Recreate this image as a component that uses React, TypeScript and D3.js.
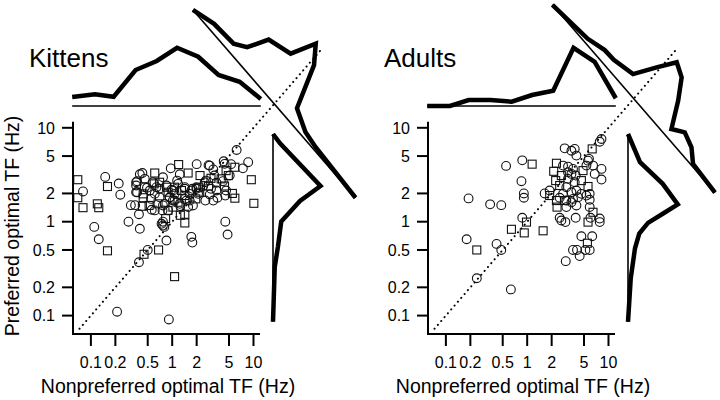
import React from "react";
import * as d3 from "d3";

const tickValues = [0.1, 0.2, 0.5, 1, 2, 5, 10];
const tickLabels = ["0.1", "0.2", "0.5", "1", "2", "5", "10"];
const panelTitles = ["Kittens", "Adults"];
const xAxisTitle = "Nonpreferred optimal TF (Hz)";
const yAxisTitle = "Preferred optimal TF (Hz)";

// scatter points: [nonpreferred TF, preferred TF] in Hz
const kittenCircles: [number, number][] = [
  [6.2, 5.8], [8.6, 4.3], [7.4, 3.7], [4.3, 4.4], [5.3, 4.1], [2.8, 4.0], [2.0, 4.1], [0.96, 3.7],
  [1.24, 3.2], [0.43, 3.3], [0.15, 3.0], [0.22, 2.55], [0.23, 1.94], [0.08, 2.1], [0.31, 1.5],
  [0.35, 1.5], [0.29, 1.0], [0.4, 0.84], [0.39, 1.2], [0.56, 1.34], [0.11, 0.88], [0.125, 0.65],
  [0.77, 0.91], [0.77, 1.0], [0.85, 0.63], [1.72, 0.69], [1.77, 0.6], [4.5, 1.0], [4.8, 0.73],
  [0.39, 0.37], [0.5, 0.5], [0.21, 0.11], [0.91, 0.091],
  [3.2, 3.6], [3.3, 3.1], [3.5, 2.6], [4.2, 2.7], [2.4, 2.4], [4.5, 1.9], [3.6, 1.8], [2.9, 1.95],
  [2.56, 1.68], [1.64, 1.98], [1.77, 2.24], [1.43, 2.24], [1.5, 1.68], [1.8, 1.49], [1.57, 1.43],
  [1.26, 1.46], [0.8, 0.88], [0.74, 0.95], [0.37, 2.06], [0.36, 2.43], [0.37, 2.7], [0.46, 2.86],
  [0.49, 2.3], [0.53, 2.15], [0.61, 1.98], [0.7, 1.82], [0.77, 2.97], [0.93, 1.8], [1.07, 1.98],
  [1.15, 2.74], [1.02, 1.68], [0.81, 1.55], [0.55, 1.75], [0.76, 1.32], [1.99, 2.24], [3.0, 2.24],
  [2.6, 2.74], [4.6, 2.15], [3.2, 1.68], [0.98, 2.19], [0.64, 2.33],
  [0.4, 3.2], [0.36, 2.63], [0.36, 2.06], [0.46, 2.33], [0.58, 2.63], [0.7, 2.24], [0.85, 2.43],
  [1.02, 2.15], [1.18, 2.53], [1.43, 2.33], [1.72, 2.15], [2.08, 1.98], [0.93, 1.82], [1.07, 1.68],
  [1.24, 1.55], [0.77, 1.49], [0.89, 1.32], [1.43, 1.75], [1.64, 1.68], [1.99, 2.33], [2.89, 3.96],
  [4.42, 4.13], [2.51, 2.63], [3.5, 2.15], [5.1, 3.1], [0.61, 1.32],
];
const kittenSquares: [number, number][] = [
  [1.2, 4.06], [1.57, 3.3], [0.61, 3.3], [5.9, 3.8], [4.6, 3.5], [2.2, 3.1], [4.9, 3.1], [3.0, 2.9],
  [4.4, 2.4], [2.8, 2.4], [2.1, 2.3], [9.4, 2.8], [5.5, 2.0], [5.9, 1.78], [10.1, 1.57], [1.95, 1.75],
  [1.43, 1.9], [1.26, 1.17], [1.43, 1.2], [1.43, 0.97], [1.02, 1.43], [0.89, 1.32], [0.83, 1.08],
  [1.07, 0.26], [0.68, 0.5], [0.45, 0.45], [0.43, 1.46], [0.44, 1.98], [0.44, 1.8], [0.7, 2.63],
  [0.85, 2.33], [0.89, 2.06], [1.18, 1.61], [0.67, 1.55], [0.52, 1.49], [2.18, 2.06], [4.0, 2.86],
  [1.07, 2.33], [1.3, 2.15], [0.6, 2.53], [0.069, 2.8], [0.069, 1.8], [0.08, 1.41], [0.12, 1.55],
  [0.125, 1.41], [0.16, 2.37], [0.16, 0.49],
];
const adultCircles: [number, number][] = [
  [0.19, 1.77], [0.18, 0.65], [0.24, 0.25], [0.35, 1.53], [0.48, 1.5], [0.42, 0.58], [0.48, 0.5],
  [0.63, 0.19], [0.55, 3.93], [0.87, 4.5], [0.85, 2.7], [0.91, 2.0], [0.91, 1.8], [0.87, 1.1],
  [1.64, 2.0], [1.89, 2.15], [2.89, 6.04], [3.5, 5.7], [3.84, 5.96], [4.03, 5.06], [2.76, 3.96],
  [3.18, 3.86], [3.66, 3.65], [3.18, 3.36], [3.5, 3.23], [3.95, 3.1], [5.6, 4.47], [6.46, 3.96],
  [6.77, 3.23], [8.2, 3.65], [8.2, 2.81], [7.8, 7.1], [8.2, 7.6], [5.75, 4.67], [5.35, 3.96],
  [3.84, 2.63], [3.03, 2.33], [3.5, 2.06], [4.03, 2.15], [4.64, 1.98], [5.87, 1.98], [5.87, 1.71],
  [5.87, 1.43], [6.0, 1.1], [7.8, 1.08], [7.8, 0.99], [3.95, 1.1], [2.51, 1.1], [2.63, 1.03],
  [2.95, 0.99], [4.64, 0.7], [6.3, 0.7], [3.66, 0.5], [4.1, 0.5], [5.2, 0.5], [5.87, 0.5],
  [4.42, 0.43], [2.98, 0.38], [3.03, 1.68], [3.66, 1.75], [4.22, 1.82], [2.76, 1.98], [2.51, 1.8],
  [4.03, 1.49], [3.03, 1.43], [5.35, 1.9], [3.5, 1.61], [3.18, 2.86],
];
const adultSquares: [number, number][] = [
  [0.24, 0.5], [1.15, 4.1], [0.98, 0.99], [0.64, 0.83], [0.92, 0.76], [1.57, 0.8], [1.89, 1.9],
  [2.33, 1.43], [2.29, 1.68], [2.12, 3.44], [2.29, 4.19], [2.24, 2.74], [2.51, 2.43], [4.86, 3.5],
  [6.3, 5.96], [4.64, 2.74], [5.6, 2.37], [6.45, 1.26], [5.6, 0.99], [5.5, 0.59], [2.63, 3.1],
  [2.89, 1.68],
];

// marginal distributions (log10 Hz bin positions, relative heights)
const topBinsLog = [-1.23, -0.95, -0.72, -0.45, -0.19, 0.06, 0.32, 0.57, 0.83, 1.09];
const kittenTopHist = [3.6, 4.7, 3.7, 14.4, 18, 23.3, 19.7, 12.4, 9.7, 2.8];
const adultTopHist = [0, 0, 2.4, 2.4, 1.7, 4.4, 6.1, 23.3, 17.7, 3.1];
const kittenRightLog = [0.934, 0.834, 0.38, 0.221, 0.003, -0.262, -0.482, -1.066];
const kittenRightHist = [0, 2.8, 19, 10.8, 3.3, 2, 0.7, 0];
const adultRightLog = [0.934, 0.635, 0.403, 0.184, 0.085, -0.013, -0.127, -0.283, -0.602, -1.066];
const adultRightHist = [0, 4.8, 13.9, 19.9, 13.9, 8, 4.5, 2.8, 1.1, 0];
// difference distribution: log10(pref) - log10(nonpref)
const kittenDiagLog = [2, 1.592, 1.141, 0.937, 0.753, 0.333, 0.13, -0.077, -0.326, -0.683, -0.966, -2];
const kittenDiagHist = [0, 2.8, 3.5, 6.7, 15.3, 18.3, 28.6, 22.4, 5.8, 2.1, 1.2, 0];
const adultDiagLog = [2, 1.202, 0.874, 0.659, 0.27, 0.052, -0.141, -0.362, -0.567, -0.787, -0.986, -1.228, -1.423, -2];
const adultDiagHist = [0, 1.8, 4, 4.2, 6.3, 15.3, 22.8, 20.3, 13.1, 3.5, 6.7, 4.8, 0.9, 0];
const diagCenters = [2.51, 2.62];

const FONT = "'Liberation Sans', Arial, Helvetica, sans-serif";

type Pt = [number, number];

function Panel(props: {
  ox: number; title: string; circles: Pt[]; squares: Pt[]; topHist: number[];
  rightLog: number[]; rightHist: number[]; diagLog: number[]; diagHist: number[];
  diagC: number; showYTitle: boolean;
}) {
  const { ox, title, circles, squares, topHist, rightLog, rightHist, diagLog, diagHist, diagC, showYTitle } = props;
  const x = d3.scaleLog().domain([10 ** -1.22, 10 ** 1.08]).range([ox + 73, ox + 260]);
  const y = d3.scaleLog().domain([10 ** -1.196, 10 ** 1.065]).range([334, 121.7]);
  const h = d3.scaleLinear().domain([0, 1]).range([0, 2.5]);
  const line = d3.line();
  const x0 = x.range()[0];
  const y0 = y.range()[0];
  const topBase = 106;
  const rightBase = ox + 273;

  const topPts: Pt[] = topBinsLog.map((b, i) => [x(10 ** b), topBase - h(topHist[i])]);
  const rightPts: Pt[] = rightLog.map((b, i) => [rightBase + h(rightHist[i]), y(10 ** b)]);
  const ux = x(10) - x(1);
  const uy = y(10) - y(1);
  const len = Math.hypot(ux, uy);
  const diagBase = (d: number): Pt => [x(10 ** ((diagC - d) / 2)), y(10 ** ((diagC + d) / 2))];
  const diagPts: Pt[] = diagLog.map((d, i) => {
    const [bx, by] = diagBase(d);
    const hh = h(diagHist[i]);
    return [bx + (hh * ux) / len, by + (hh * uy) / len];
  });
  const idLo = 10 ** -1.14;
  const idHi = 10 ** 1.84;
  const sq = 8;

  return (
    <g>
      <text x={ox + 29} y={67} fontSize={26} fontFamily={FONT}>{title}</text>
      {/* identity line */}
      <line x1={x(idLo)} y1={y(idLo)} x2={x(idHi)} y2={y(idHi)} stroke="#000" strokeWidth={2}
        strokeDasharray="0.1 5" strokeLinecap="round" />
      {/* scatter */}
      {circles.map((p, i) => (
        <circle key={"c" + i} cx={x(p[0])} cy={y(p[1])} r={4.4} fill="none" stroke="#111" strokeWidth={1.1} />
      ))}
      {squares.map((p, i) => (
        <rect key={"s" + i} x={x(p[0]) - sq / 2} y={y(p[1]) - sq / 2} width={sq} height={sq}
          fill="none" stroke="#111" strokeWidth={1.1} />
      ))}
      {/* axes */}
      <line x1={x0} y1={y.range()[1]} x2={x0} y2={y0} stroke="#000" strokeWidth={2} />
      <line x1={x0 - 1} y1={y0} x2={x.range()[1]} y2={y0} stroke="#000" strokeWidth={2} />
      {tickValues.map((v, i) => (
        <g key={"yt" + i}>
          <line x1={x0 - 11} x2={x0} y1={y(v)} y2={y(v)} stroke="#000" strokeWidth={2} />
          <text x={x0 - 18} y={y(v)} dy="0.36em" textAnchor="end" fontSize={16} fontFamily={FONT}>
            {tickLabels[i]}
          </text>
        </g>
      ))}
      {tickValues.map((v, i) => (
        <g key={"xt" + i}>
          <line x1={x(v)} x2={x(v)} y1={y0} y2={y0 + 12} stroke="#000" strokeWidth={2} />
          <text x={x(v)} y={368} textAnchor="middle" fontSize={16} fontFamily={FONT}>
            {tickLabels[i]}
          </text>
        </g>
      ))}
      <text x={ox + 168} y={393} textAnchor="middle" fontSize={19.5} fontFamily={FONT}>{xAxisTitle}</text>
      {showYTitle && (
        <text transform={`translate(19,226) rotate(-90)`} textAnchor="middle" fontSize={19.5} fontFamily={FONT}>
          {yAxisTitle}
        </text>
      )}
      {/* marginal baselines */}
      <line x1={topPts[0][0]} x2={topPts[topPts.length - 1][0]} y1={topBase} y2={topBase} stroke="#000" strokeWidth={1.6} />
      <line x1={rightBase} x2={rightBase} y1={rightPts[0][1]} y2={rightPts[rightPts.length - 1][1]} stroke="#000" strokeWidth={1.6} />
      {(() => {
        const a = diagBase(2);
        const b = diagBase(-2);
        return <line x1={a[0]} y1={a[1]} x2={b[0]} y2={b[1]} stroke="#000" strokeWidth={1.6} />;
      })()}
      {/* marginal histograms */}
      <path d={line(topPts) || ""} fill="none" stroke="#000" strokeWidth={4.5} />
      <path d={line(rightPts) || ""} fill="none" stroke="#000" strokeWidth={4.5} />
      <path d={line(diagPts) || ""} fill="none" stroke="#000" strokeWidth={4.5} />
    </g>
  );
}

export default function App() {
  return (
    <svg width={720} height={400} style={{ position: "absolute", left: 0, top: 0, background: "#fff" }}>
      <rect width={720} height={400} fill="#fff" />
      <Panel ox={0} title={panelTitles[0]} circles={kittenCircles} squares={kittenSquares}
        topHist={kittenTopHist} rightLog={kittenRightLog} rightHist={kittenRightHist}
        diagLog={kittenDiagLog} diagHist={kittenDiagHist} diagC={diagCenters[0]} showYTitle={true} />
      <Panel ox={355} title={panelTitles[1]} circles={adultCircles} squares={adultSquares}
        topHist={adultTopHist} rightLog={adultRightLog} rightHist={adultRightHist}
        diagLog={adultDiagLog} diagHist={adultDiagHist} diagC={diagCenters[1]} showYTitle={false} />
    </svg>
  );
}
